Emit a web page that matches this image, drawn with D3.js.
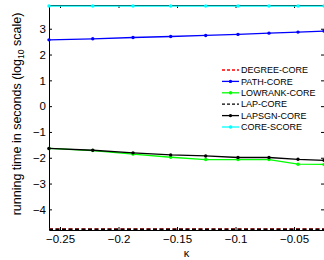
<!DOCTYPE html>
<html lang="en">
  <head>
    <meta charset="utf-8">
    <title>Running time vs kappa</title>
    <style>
      body { margin: 0; background: #fff; }
      svg { display: block; font-family: "Liberation Sans", Arial, sans-serif; }
    </style>
  </head>
  <body>
    <svg width="324" height="260"></svg>
    <script src="https://d3js.org/d3.v7.min.js"></script>
    <script>

    // data (log10 seconds)
    var kappa = [-0.2594, -0.222, -0.1876, -0.1554, -0.1255, -0.0979, -0.0714, -0.0466, -0.0244];
    var degreeCore  = [-4.76, -4.76, -4.76, -4.76, -4.76, -4.76, -4.76, -4.76, -4.76];
    var pathCore    = [2.57, 2.61, 2.66, 2.70, 2.74, 2.78, 2.83, 2.87, 2.91];
    var lowrankCore = [-1.64, -1.72, -1.86, -1.98, -2.07, -2.07, -2.07, -2.25, -2.26];
    var lapCore     = [-4.77, -4.77, -4.77, -4.77, -4.77, -4.77, -4.77, -4.77, -4.77];
    var lapsgnCore  = [-1.64, -1.71, -1.81, -1.89, -1.93, -1.99, -1.99, -2.06, -2.10];
    var coreScore   = [3.88, 3.88, 3.88, 3.88, 3.88, 3.88, 3.88, 3.88, 3.88];

    var seriesNames = ["DEGREE-CORE", "PATH-CORE", "LOWRANK-CORE", "LAP-CORE", "LAPSGN-CORE", "CORE-SCORE"];
    var xTicks = [-0.25, -0.2, -0.15, -0.1, -0.05];
    var yTicks = [-4, -3, -2, -1, 0, 1, 2, 3];

    var series = [
      {name: seriesNames[0], values: degreeCore,  color: "#ff0000", dash: "4,2.5", marker: false},
      {name: seriesNames[1], values: pathCore,    color: "#0000ff", dash: null,    marker: true},
      {name: seriesNames[2], values: lowrankCore, color: "#00ff00", dash: null,    marker: true},
      {name: seriesNames[3], values: lapCore,     color: "#000000", dash: "4,2.5", marker: false},
      {name: seriesNames[4], values: lapsgnCore,  color: "#000000", dash: null,    marker: true},
      {name: seriesNames[5], values: coreScore,   color: "#00ffff", dash: null,    marker: true}
    ];

    var svg = d3.select("svg"),
        margin = {top: 5, left: 49},
        width = 275,
        height = 225;

    var x = d3.scaleLinear().domain([-0.2594, -0.0244]).range([0, width]);
    var y = d3.scaleLinear().domain([-4.80, 3.92]).range([height, 0]);

    var g = svg.append("g").attr("transform", "translate(" + margin.left + "," + margin.top + ")");

    // axes with inward ticks
    var fmt = d3.format("~g");

    g.append("g")
        .attr("transform", "translate(0," + height + ")")
        .call(d3.axisBottom(x).tickValues(xTicks).tickFormat(fmt).tickSizeInner(-3).tickSizeOuter(0).tickPadding(5));
    g.append("g")
        .call(d3.axisTop(x).tickValues(xTicks).tickFormat("").tickSizeInner(-3).tickSizeOuter(0));
    g.append("g")
        .call(d3.axisLeft(y).tickValues(yTicks).tickFormat(fmt).tickSizeInner(-3).tickSizeOuter(0).tickPadding(3));
    g.append("g")
        .attr("transform", "translate(" + width + ",0)")
        .call(d3.axisRight(y).tickValues(yTicks).tickFormat("").tickSizeInner(-3).tickSizeOuter(0));

    g.selectAll(".tick text").attr("font-size", 11.5).attr("font-family", "Liberation Sans, Arial, sans-serif").attr("fill", "#000");
    g.selectAll(".domain, .tick line").attr("stroke", "#000");

    // lines
    var line = d3.line()
        .x(function(d, i) { return x(kappa[i]); })
        .y(function(d) { return y(d); });

    series.forEach(function(s) {
      g.append("path")
          .datum(s.values)
          .attr("fill", "none")
          .attr("stroke", s.color)
          .attr("stroke-width", 1.3)
          .attr("stroke-dasharray", s.dash)
          .attr("d", line);
      if (s.marker) {
        g.selectAll(null)
          .data(s.values)
          .enter().append("circle")
            .attr("cx", function(d, i) { return x(kappa[i]); })
            .attr("cy", function(d) { return y(d); })
            .attr("r", 1.7)
            .attr("fill", s.color);
      }
    });

    // legend
    var legend = svg.append("g").attr("font-size", 9);
    series.forEach(function(s, i) {
      var ly = 70 + i * 11.4;
      legend.append("line")
          .attr("x1", 222).attr("x2", 239)
          .attr("y1", ly).attr("y2", ly)
          .attr("stroke", s.color)
          .attr("stroke-width", 1.3)
          .attr("stroke-dasharray", s.dash ? "3,2" : null);
      if (s.marker) {
        legend.append("circle").attr("cx", 230.5).attr("cy", ly).attr("r", 1.7).attr("fill", s.color);
      }
      legend.append("text")
          .attr("x", 241).attr("y", ly + 3.2)
          .text(s.name);
    });

    // axis labels
    svg.append("text")
        .attr("x", margin.left + width / 2)
        .attr("y", 257)
        .attr("text-anchor", "middle")
        .attr("font-size", 11)
        .text("κ");

    var ylab = svg.append("text")
        .attr("transform", "translate(21,114) rotate(-90)")
        .attr("text-anchor", "middle")
        .attr("font-size", 12.5);
    ylab.append("tspan").text("running time in seconds (log");
    ylab.append("tspan").attr("font-size", 8.5).attr("dy", 3).text("10");
    ylab.append("tspan").attr("dy", -3).text(" scale)");

    </script>
  </body>
</html>
